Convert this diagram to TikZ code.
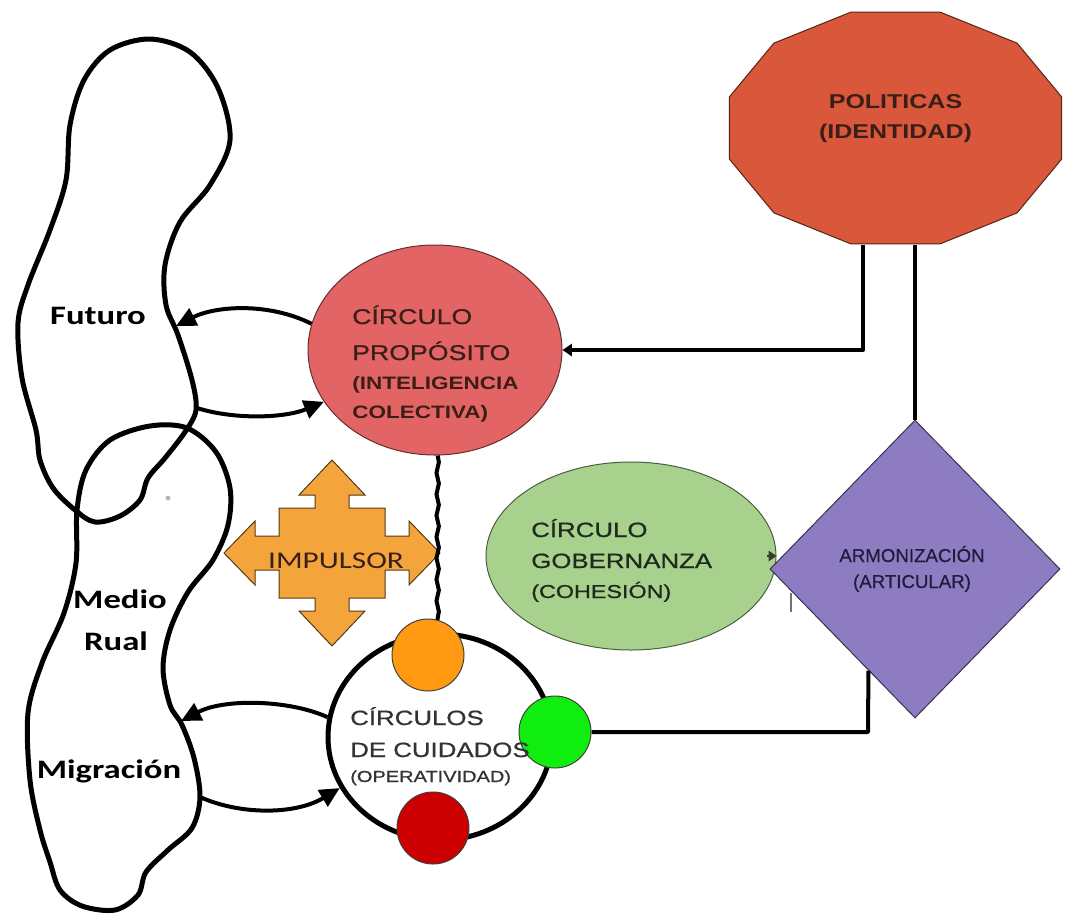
\documentclass[tikz,border=0pt]{standalone}
\usepackage{fontspec}
\setmainfont{Liberation Sans}[FakeStretch=1.25]
\newfontfamily\fuentegruesa{Liberation Sans}[FakeStretch=1.25,FakeBold=0.8]
\newfontfamily\fuentecal{Carlito}[FakeStretch=1.3]
\newfontfamily\fuentearm{Liberation Sans}[FakeBold=0.6]
\usetikzlibrary{calc,shapes.geometric,arrows.meta,decorations.pathmorphing}
\definecolor{colprop}{HTML}{E36464}
\definecolor{colpol}{HTML}{D9573B}
\definecolor{colgob}{HTML}{A9D18E}
\definecolor{colarm}{HTML}{8E7CC3}
\definecolor{colimp}{HTML}{F3A53C}
\definecolor{colnar}{HTML}{FF9A12}
\definecolor{colver}{HTML}{10EE10}
\definecolor{colroj}{HTML}{CC0000}
\definecolor{coltxt}{HTML}{3A1E18}
\definecolor{coltxtgob}{HTML}{1E2A1E}
\definecolor{coltxtarm}{HTML}{1E1E3C}
\tikzset{%
  blob/.style={line width=3.75pt, line join=round},
  flecha/.style={line width=3pt, -{Triangle[length=15pt,width=14pt]}},
  conector/.style={line width=3pt, line join=round},
  ondulada/.style={line width=3pt, decorate,
    decoration={snake, amplitude=0.9pt, segment length=16pt}},
  elipse/.style={ellipse, inner sep=0pt, line width=0.75pt,
    fill=#1, draw=#1!45!black},
  punto/.style={circle, minimum size=54pt, inner sep=0pt,
    line width=0.75pt, fill=#1, draw=black!75},
  linea/.style={anchor=base west, inner sep=0pt},
  centro/.style={anchor=base, inner sep=0pt},
  izq/.style={centro, font=\fuentecal\bfseries\fontsize{20}{24}\selectfont},
}
% puntos de anclaje sobre los contornos
\newcommand{\Anclajes}{
  \coordinate (futin) at (176,326);% llegada a Futuro
  \coordinate (futout) at (197,408);% salida de Futuro
  \coordinate (migin) at (181,721);% llegada a Migracion
  \coordinate (migout) at (200,797);% salida de Migracion
  \coordinate (polA) at (863,245);% borde inferior del poligono
  \coordinate (polB) at (912,245);
}

\begin{document}
\begin{tikzpicture}[x=0.75pt,y=-0.75pt]
  \useasboundingbox (0,0) rectangle (1066,914);
  \Anclajes% makes coordinates available
  % contornos a mano alzada
  \draw[blob] plot[smooth cycle, tension=0.55] coordinates {
    (150,39) (190,52) (218,88) (230,140) (210,185) (180,222) (165,265)
    (166,305) (178,335) (192,380) (196,410) (185,432) (165,458) (148,478)
    (140,500) (120,516) (95,522) (75,510) (53,488) (40,460) (36,430)
    (22,378) (18,323) (28,285) (50,230) (66,180) (70,125) (84,80) (110,50)};
  \draw[blob] plot[smooth cycle, tension=0.55] coordinates {
    (150,426) (187,428) (216,452) (230,488) (228,525) (213,560) (188,592)
    (170,630) (163,668) (170,705) (182,725) (194,758) (200,797) (192,828)
    (168,850) (146,872) (138,895) (115,910) (82,906) (60,890) (50,862)
    (40,830) (30,780) (28,713) (42,663) (64,613) (76,563) (77,510)
    (86,470) (110,440)};
  \fill[gray!55] (168,498) circle[radius=2.5];
  \node[izq] (futuro) at (98,324) {Futuro};
  \node[izq] (medio) at (120,608) {Medio};
  \node[izq] (rual) at (116,650) {Rual};
  \node[izq] (migracion) at (109,778) {Migración};
  % politicas
  \draw[fill=colpol, draw=colpol!40!black, line width=0.75pt]
    ({895.5+172*cos(15)},{128-120*sin(15)})
    foreach \a in {45,75,...,345} {
      -- ({895.5+172*cos(\a)},{128-120*sin(\a)})
    } -- cycle;
  \node[centro, text=coltxt, font=\bfseries\fontsize{15}{18}\selectfont]
    (pol1) at (895.5,108) {POLITICAS};
  \node[centro, text=coltxt, font=\bfseries\fontsize{15}{18}\selectfont]
    (pol2) at (895.5,138) {(IDENTIDAD)};
  % circulo proposito
  \node[elipse=colprop, minimum width=190.5pt, minimum height=157.5pt]
    (prop) at (435,350) {};
  \node[linea, text=coltxt, font=\fuentegruesa\fontsize{16}{19}\selectfont]
    (prop1) at (352,324) {CÍRCULO};
  \node[linea, text=coltxt, font=\fuentegruesa\fontsize{16}{19}\selectfont]
    (prop2) at (352,360) {PROPÓSITO};
  \node[linea, text=coltxt, font=\bfseries\fontsize{13.5}{16}\selectfont]
    (prop3) at (352,389) {(INTELIGENCIA};
  \node[linea, text=coltxt, font=\bfseries\fontsize{13.5}{16}\selectfont]
    (prop4) at (352,418) {COLECTIVA)};
  % circulo gobernanza y armonizacion
  \node[elipse=colgob, minimum width=217.5pt, minimum height=141pt]
    (gob) at (631,556) {};
  \node[linea, text=coltxtgob, font=\fuentegruesa\fontsize{15.5}{18}\selectfont]
    (gob1) at (531,537) {CÍRCULO};
  \node[linea, text=coltxtgob, font=\fuentegruesa\fontsize{15.5}{18}\selectfont]
    (gob2) at (531,568) {GOBERNANZA};
  \node[linea, text=coltxtgob, font=\fuentegruesa\fontsize{14}{17}\selectfont]
    (gob3) at (531,598) {(COHESIÓN)};
  \node[diamond, inner sep=0pt, minimum width=217.5pt, minimum height=223.5pt,
    fill=colarm, draw=colarm!40!black, line width=0.75pt]
    (arm) at (915,569) {};
  \node[centro, text=coltxtarm, font=\fuentearm\fontsize{14}{17}\selectfont]
    (arm1) at (912,562) {ARMONIZACIÓN};
  \node[centro, text=coltxtarm, font=\fuentearm\fontsize{14}{17}\selectfont]
    (arm2) at (912,588) {(ARTICULAR)};
  \draw[-{Triangle[length=6pt,width=8pt]}, draw=colgob!30!black,
    line width=1pt] ([xshift=-7pt]gob.east) -- (gob.east);
  \draw[line width=1pt, black!55] (791,593) -- (791,612);
  % impulsor
  \begin{scope}[shift={(332,553)}]
    \draw[fill=colimp, draw=colimp!35!black, line width=0.75pt]
      (0,-93) -- (33,-58) -- (17,-58) -- (17,-45) -- (53,-45) -- (53,-17)
      -- (77,-17) -- (77,-32) -- (108,0) -- (77,32) -- (77,17) -- (53,17)
      -- (53,45) -- (17,45) -- (17,58) -- (33,58) -- (0,93) -- (-33,58)
      -- (-17,58) -- (-17,45) -- (-53,45) -- (-53,17) -- (-77,17)
      -- (-77,32) -- (-108,0) -- (-77,-32) -- (-77,-17) -- (-53,-17)
      -- (-53,-45) -- (-17,-45) -- (-17,-58) -- (-33,-58) -- cycle;
  \end{scope}
  \node[centro, text=coltxt, font=\fuentecal\fontsize{18}{21}\selectfont]
    (imp) at (336,568) {IMPULSOR};
  % circulos de cuidados
  \node[ellipse, draw, line width=3.75pt, fill=white, inner sep=0pt,
    minimum width=168pt, minimum height=154.5pt]
    (cuid) at (440,737) {};
  \draw[ondulada] ([xshift=2pt]prop.south) -- ([xshift=2pt]prop.south |- 0,620);
  \node[punto=colnar] (naranja) at (428,655) {};
  \node[punto=colver] (verde) at (555,732) {};
  \node[punto=colroj] (rojo) at (433,828) {};
  \node[linea, text=black!80, font=\fuentegruesa\fontsize{15.5}{18}\selectfont]
    (cuid1) at (350,725) {CÍRCULOS};
  \node[linea, text=black!80, font=\fuentegruesa\fontsize{15.5}{18}\selectfont]
    (cuid2) at (350,757) {DE CUIDADOS};
  \node[linea, text=black!80, font=\fuentegruesa\fontsize{12}{14}\selectfont]
    (cuid3) at (350,782) {(OPERATIVIDAD)};
  % flechas hacia los contornos
  \draw[flecha] (prop.168) .. controls (268,302) and (215,306) .. (futin);
  \draw[flecha] (futout) .. controls (235,420) and (285,418) .. (prop.205);
  \draw[flecha] (cuid.170) .. controls (290,700) and (225,698) .. (migin);
  \draw[flecha] (migout) .. controls (240,815) and (295,815) .. (cuid.207);
  % conectores
  \draw[conector, {Triangle[length=7pt,width=9pt]}-]
    (prop.east) -- (prop.east -| polA) -- (polA);
  \draw[conector] (polB -| arm.north) -- (arm.north);
  \draw[conector] (verde.east) -- (verde.east -| 868,0)
    -- ($(arm.west)!0.68!(arm.south)$);
\end{tikzpicture}
\end{document}
